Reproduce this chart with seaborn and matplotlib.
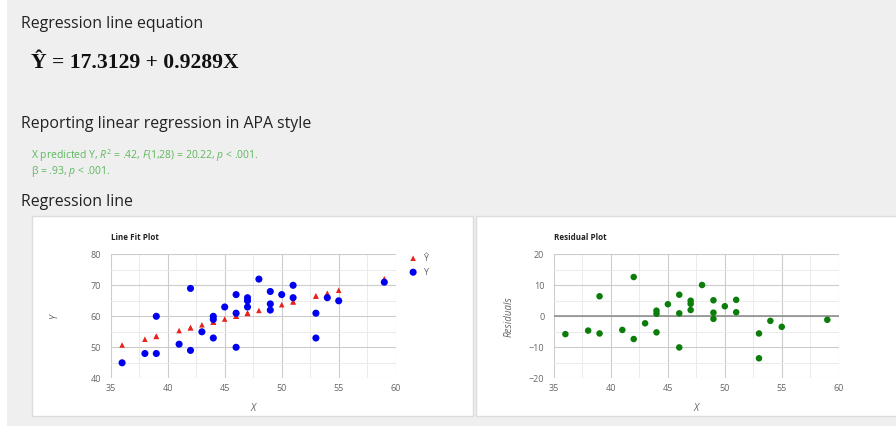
import matplotlib
matplotlib.use("Agg")
import matplotlib.pyplot as plt
from matplotlib.patches import Rectangle
from matplotlib.ticker import MultipleLocator
import seaborn as sns
import pandas as pd

# ---------------- data ----------------
X = [36, 38, 39, 39, 41, 42, 42, 43, 44, 44, 44, 45, 46, 46, 46,
     47, 47, 47, 48, 49, 49, 49, 50, 51, 51, 53, 53, 54, 55, 59]
Y = [45, 48, 48, 60, 51, 69, 49, 55, 60, 59, 53, 63, 67, 61, 50,
     66, 65, 63, 72, 68, 64, 62, 67, 70, 66, 61, 53, 66, 65, 71]
Y_HAT = [50.75, 52.61, 53.54, 53.54, 55.40, 56.33, 56.33, 57.26, 58.18, 58.18,
         58.18, 59.11, 60.04, 60.04, 60.04, 60.97, 60.97, 60.97, 61.90, 62.83,
         62.83, 62.83, 63.76, 64.69, 64.69, 66.54, 66.54, 67.47, 68.40, 72.12]
RESID = [-5.75, -4.61, -5.54, 6.46, -4.40, 12.67, -7.33, -2.26, 1.82, 0.82,
         -5.18, 3.89, 6.96, 0.96, -10.04, 5.03, 4.03, 2.03, 10.10, 5.17,
         1.17, -0.83, 3.24, 5.31, 1.31, -5.54, -13.54, -1.47, -3.40, -1.12]

X_TICKS = [35, 40, 45, 50, 55, 60]
Y_TICKS_FIT = [40, 50, 60, 70, 80]
Y_TICKS_RES = [-20, -10, 0, 10, 20]

df = pd.DataFrame({"X": X, "Y": Y, "Yhat": Y_HAT, "Resid": RESID})

# ---------------- figure ----------------
sns.set_style("white")
plt.rcParams["font.family"] = ["Open Sans", "DejaVu Sans"]
plt.rcParams["mathtext.fontset"] = "custom"
plt.rcParams["mathtext.rm"] = "Open Sans"
plt.rcParams["mathtext.it"] = "Open Sans:italic"

W, H = 896, 426
fig = plt.figure(figsize=(W / 100, H / 100), dpi=100)
fig.patch.set_facecolor("white")


def fx(px):
    return px / W


def fy(py):
    return 1 - py / H


# grey page background
fig.add_artist(Rectangle((fx(7), 0), 1, 1, transform=fig.transFigure,
                         facecolor="#efefef", edgecolor="none", zorder=-10))
# white chart panels
for x0, x1 in [(31.5, 473), (475.5, 900)]:
    fig.add_artist(Rectangle((fx(x0), fy(416)), fx(x1 - x0), (416 - 216) / H,
                             transform=fig.transFigure, facecolor="white",
                             edgecolor="#dcdcdc", linewidth=1.0, zorder=-5))

head_col = "#222222"
fig.text(fx(21), fy(28), "Regression line equation", fontsize=11.4,
         color=head_col, va="baseline")
fig.text(fx(31), fy(68), "Ŷ = 17.3129 + 0.9289X", fontsize=15.6,
         family="Liberation Serif", weight="bold", color="#111111",
         va="baseline")
fig.text(fx(21), fy(128), "Reporting linear regression in APA style",
         fontsize=11.4, color=head_col, va="baseline")
green = "#5cb85c"
fig.text(fx(31), fy(158.5), r"X predicted Y, $R^2$ = .42, $F$(1,28) = 20.22, $p$ < .001.",
         fontsize=7.5, color=green, va="baseline")
fig.text(fx(31), fy(174), r"β = .93, $p$ < .001.", fontsize=7.5, color=green,
         va="baseline")
fig.text(fx(21), fy(206), "Regression line", fontsize=11.4, color=head_col,
         va="baseline")

tick_col = "#666666"


def style_axes(ax, yticks, ylim):
    ax.set_xlim(35, 60)
    ax.set_ylim(*ylim)
    ax.set_xticks(X_TICKS)
    ax.set_yticks(yticks)
    ax.xaxis.set_minor_locator(MultipleLocator(2.5))
    ax.yaxis.set_minor_locator(MultipleLocator((yticks[1] - yticks[0]) / 2))
    ax.grid(True, which="major", color="#cccccc", linewidth=0.8)
    ax.grid(True, which="minor", color="#ebebeb", linewidth=0.7)
    ax.set_axisbelow(True)
    for s in ax.spines.values():
        s.set_visible(False)
    ax.tick_params(which="both", length=0, labelsize=6.5, labelcolor=tick_col,
                   pad=4)
    ax.tick_params(axis="y", pad=7)
    ax.set_facecolor("white")


# ---- Line Fit Plot ----
ax1 = fig.add_axes([fx(110.7), fy(378.3), fx(395.7 - 110.7), (378.3 - 254.3) / H])
style_axes(ax1, Y_TICKS_FIT, (40, 80))
sns.scatterplot(data=df, x="X", y="Yhat", ax=ax1, marker="^", s=16,
                color="#e8231c", edgecolor="none", label="Ŷ", zorder=3)
sns.scatterplot(data=df, x="X", y="Y", ax=ax1, marker="o", s=26,
                color="#0000f0", edgecolor="none", label="Y", zorder=4)
ax1.set_xlabel("X", fontsize=7, color=tick_col, style="italic", labelpad=7)
ax1.set_ylabel("Y", fontsize=7, color=tick_col, style="italic", labelpad=22)
leg = ax1.legend(loc="upper left", bbox_to_anchor=(fx(405), fy(250)),
                 bbox_transform=fig.transFigure, frameon=False, fontsize=6.5,
                 handletextpad=0.6, labelspacing=0.55, handlelength=1.0,
                 borderaxespad=0)
for t in leg.get_texts():
    t.set_color(tick_col)
fig.text(fx(110.7), fy(240), "Line Fit Plot", fontsize=5.8, weight="bold",
         color="#222222", va="baseline")

# ---- Residual Plot ----
ax2 = fig.add_axes([fx(554), fy(378.3), fx(838.7 - 554), (378.3 - 254.3) / H])
style_axes(ax2, Y_TICKS_RES, (-20, 20))
ax2.axhline(0, color="#888888", linewidth=1.1, zorder=2)
sns.scatterplot(data=df, x="X", y="Resid", ax=ax2, marker="o", s=22,
                color="#0b7d0b", edgecolor="none", zorder=4)
ax2.set_xlabel("X", fontsize=7, color=tick_col, style="italic", labelpad=7)
ax2.set_ylabel("Residuals", fontsize=7, color=tick_col, style="italic",
               labelpad=10)
fig.text(fx(554), fy(240), "Residual Plot", fontsize=5.8, weight="bold",
         color="#222222", va="baseline")

fig.savefig("out.png", dpi=100, facecolor=fig.get_facecolor())
